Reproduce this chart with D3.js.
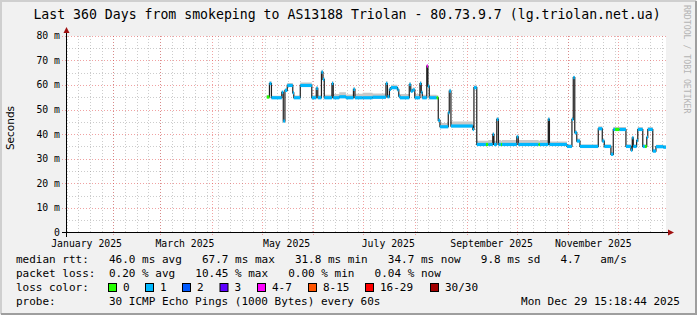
<!doctype html>
<html>
<head>
<meta charset="utf-8">
<script src="https://cdn.jsdelivr.net/npm/d3@7/dist/d3.min.js"></script>
<style>
  body { margin: 0; background: #f1f1f1; }
  svg { display: block; }
  text { font-family: "DejaVu Sans Mono", monospace; fill: #000; }
</style>
</head>
<body>
<svg id="chart" width="697" height="315"></svg>
<script>
// median rtt: day offset from 1 Jan 2025, ms, smoke above median (ms), loss class
var medDay = [123.1, 124.7, 125.9, 132.1, 133.0, 134.0, 135.4, 138.7, 139.3, 143.2,
              150.1, 152.8, 153.7, 155.9, 156.8, 157.6, 162.2, 163.0, 166.6, 170.6,
              175.1, 176.0, 180.6, 186.6, 194.6, 195.5, 196.7, 197.6, 201.5, 202.3,
              203.0, 208.6, 209.5, 210.7, 211.9, 215.0, 215.8, 216.4, 219.1, 219.8,
              220.6, 225.0, 226.0, 227.0, 232.0, 232.6, 233.6, 246.7, 247.4, 249.1,
              254.6, 256.0, 258.7, 259.4, 261.1, 262.1, 263.6, 264.2, 273.1, 274.0,
              286.2, 287.0, 292.0, 292.7, 303.2, 306.2, 307.0, 307.9, 309.1, 311.0,
              322.0, 324.4, 325.6, 329.6, 331.0, 332.1, 334.8, 338.6, 341.6, 342.4,
              343.0, 345.0, 345.7, 348.7, 350.0, 351.1, 351.7, 354.7, 356.6, 361.0];
var medMs  = [55.1, 60.6, 54.8, 57.0, 45.3, 57.8, 59.8, 56.8, 54.8, 59.8,
              54.8, 58.6, 54.8, 65.2, 62.3, 54.8, 60.6, 54.8, 55.2, 54.8,
              58.2, 54.8, 54.8, 55.0, 60.6, 55.2, 58.2, 58.9, 58.0, 55.5,
              54.8, 60.2, 57.5, 58.0, 54.8, 60.6, 57.0, 54.8, 67.7, 59.5,
              54.8, 54.8, 45.6, 43.0, 48.7, 57.5, 43.3, 41.9, 58.9, 35.8,
              35.8, 35.8, 39.9, 35.8, 46.0, 35.8, 35.8, 35.8, 38.9, 35.8,
              35.8, 35.8, 46.0, 35.8, 35.0, 46.0, 63.0, 40.6, 37.2, 35.0,
              42.2, 37.2, 35.0, 31.8, 41.9, 41.9, 41.9, 35.0, 33.5, 38.5,
              35.0, 37.4, 41.9, 35.0, 35.0, 38.7, 41.9, 33.1, 34.9, 34.7];
var smokeUp = [0.8, 1.0, 0.8, 0.8, 0.8, 0.8, 1.0, 0.8, 0.9, 1.2,
               1.0, 1.0, 1.0, 1.0, 1.0, 1.2, 1.0, 1.5, 1.8, 1.3,
               1.0, 1.6, 2.0, 1.5, 1.0, 1.0, 1.0, 1.2, 1.0, 1.0,
               1.5, 1.0, 1.0, 1.0, 1.5, 1.0, 1.0, 1.2, 0.5, 1.0,
               1.2, 1.0, 1.0, 1.5, 1.0, 1.0, 1.8, 1.0, 1.0, 1.5,
               1.5, 1.8, 1.0, 1.5, 1.0, 1.8, 1.5, 1.8, 1.0, 1.8,
               1.5, 1.8, 1.0, 1.2, 0.8, 1.0, 0.8, 1.0, 1.0, 0.8,
               1.0, 1.0, 0.8, 0.8, 1.0, 1.0, 1.0, 0.8, 0.8, 0.8,
               0.8, 0.8, 1.0, 0.8, 0.8, 0.8, 1.0, 0.8, 0.8, 0.8];
var lossCls = [0, 1, 1, 1, 1, 1, 1, 1, 1, 1,
               1, 1, 1, 1, 1, 1, 1, 1, 1, 1,
               1, 1, 1, 1, 1, 1, 1, 1, 1, 1,
               1, 1, 1, 1, 1, 1, 1, 1, 4, 1,
               1, 0, 1, 1, 1, 1, 1, 1, 1, 1,
               0, 1, 1, 1, 1, 1, 0, 1, 1, 1,
               0, 1, 1, 1, 1, 1, 1, 1, 1, 1,
               1, 1, 1, 1, 1, 0, 1, 1, 1, 1,
               1, 1, 1, 1, 0, 1, 1, 1, 1, 1];

var lossColors = ["#26ff00", "#00b8ff", "#0059ff", "#5e00ff", "#ff00ff", "#ff5500", "#ff0000", "#a10000"];
var lossLabels = ["0", "1", "2", "3", "4-7", "8-15", "16-29", "30/30"];
var yTicks = [0, 10, 20, 30, 40, 50, 60, 70, 80];

var legendRtt  = ["median rtt:", "46.0 ms avg", "67.7 ms max", "31.8 ms min", "34.7 ms now", "9.8 ms sd", "4.7", "am/s"];
var legendLoss = ["packet loss:", "0.20 % avg", "10.45 % max", "0.00 % min", "0.04 % now"];

var title = "Last 360 Days from smokeping to AS13188 Triolan - 80.73.9.7 (lg.triolan.net.ua)";
var probe = "30 ICMP Echo Pings (1000 Bytes) every 60s";
var stamp = "Mon Dec 29 15:18:44 2025";

var end = new Date(2025, 11, 29, 15, 18, 44);
var start = new Date(+end - 360 * 864e5);
var jan1 = new Date(2025, 0, 1);
var dayToDate = function(d) { return new Date(+jan1 + d * 864e5); };

var svg = d3.select("#chart");
var W = 697, H = 315;

// frame
svg.append("rect").attr("width", W).attr("height", H).attr("fill", "#f1f1f1");
svg.append("path").attr("d", "M1,314V1H696").attr("fill", "none").attr("stroke", "#cfcfcf").attr("stroke-width", 2);
svg.append("path").attr("d", "M1,314H696V1").attr("fill", "none").attr("stroke", "#9e9e9e").attr("stroke-width", 2);

var x = d3.scaleTime().domain([start, end]).range([66, 666]);
var y = d3.scaleLinear().domain([0, 80]).range([232.5, 35.8]);
var px = function(v) { return Math.round(v) + 0.5; };

svg.append("rect").attr("x", 66).attr("y", 36).attr("width", 600).attr("height", 197).attr("fill", "#fff");

// grid
var grid = svg.append("g").attr("stroke-dasharray", "1,2").attr("stroke-width", 1);
grid.selectAll(".hmin").data(d3.range(5, 80, 10)).enter().append("line")
  .attr("x1", 66).attr("x2", 666).attr("y1", function(d) { return px(y(d)); }).attr("y2", function(d) { return px(y(d)); })
  .attr("stroke", "rgba(128,128,128,0.4)");
grid.selectAll(".vmin").data(d3.timeSaturday.range(start, end)).enter().append("line")
  .attr("x1", function(d) { return px(x(d)); }).attr("x2", function(d) { return px(x(d)); })
  .attr("y1", 36).attr("y2", 233).attr("stroke", "rgba(128,128,128,0.4)");
grid.selectAll(".hmaj").data(yTicks.slice(1)).enter().append("line")
  .attr("x1", 62).attr("x2", 666).attr("y1", function(d) { return px(y(d)); }).attr("y2", function(d) { return px(y(d)); })
  .attr("stroke", "rgba(225,70,70,0.5)");
grid.selectAll(".vmaj").data(d3.timeMonth.range(start, end)).enter().append("line")
  .attr("x1", function(d) { return px(x(d)); }).attr("x2", function(d) { return px(x(d)); })
  .attr("y1", 36).attr("y2", 237).attr("stroke", "rgba(225,70,70,0.5)");

// smoke
var pts = medDay.map(function(d, i) {
  return { t: dayToDate(d), v: medMs[i], up: smokeUp[i], loss: lossCls[i] };
});
pts.push({ t: end, v: medMs[medMs.length - 1], up: smokeUp[smokeUp.length - 1], loss: 1 });

svg.append("path").datum(pts)
  .attr("fill", "#c8c8c8")
  .attr("d", d3.area().curve(d3.curveStepAfter)
    .x(function(d) { return x(d.t); })
    .y0(function(d) { return y(d.v - 0.5); })
    .y1(function(d) { return y(d.v + d.up); }));

// median line
svg.append("path").datum(pts)
  .attr("fill", "none").attr("stroke", "#202020").attr("stroke-width", 1.2)
  .attr("d", d3.line().curve(d3.curveStepAfter)
    .x(function(d) { return x(d.t); })
    .y(function(d) { return y(d.v); }));

// loss coloured median band
svg.selectAll(".med").data(pts.slice(0, -1)).enter().append("rect")
  .attr("x", function(d) { return x(d.t); })
  .attr("width", function(d, i) { return Math.max(1.2, x(pts[i + 1].t) - x(d.t)); })
  .attr("y", function(d) { return y(d.v) - 1.6; })
  .attr("height", 3.2)
  .attr("fill", function(d) { return lossColors[d.loss]; });

// axes
svg.append("line").attr("x1", 62).attr("x2", 670).attr("y1", 232.5).attr("y2", 232.5).attr("stroke", "#000");
svg.append("line").attr("x1", 66.5).attr("x2", 66.5).attr("y1", 237).attr("y2", 31).attr("stroke", "#000");
svg.append("path").attr("d", "M668,229.5L674,232.5L668,235.5Z").attr("fill", "#a01010");
svg.append("path").attr("d", "M63.5,33L66.5,27L69.5,33Z").attr("fill", "#a01010");

// y labels
svg.selectAll(".yl").data(yTicks).enter().append("text")
  .attr("x", 60).attr("y", function(d) { return y(d) + 3.5; })
  .attr("text-anchor", "end").style("font-size", "9.8px")
  .text(function(d) { return d === 0 ? "0" : d + " m"; });

// x labels: centred half a month after each second month start
svg.selectAll(".xl").data(d3.timeMonth.every(2).range(jan1, end)).enter().append("text")
  .attr("x", function(d) { return x(d3.timeDay.offset(d, 15)); }).attr("y", 246.5)
  .attr("text-anchor", "middle").style("font-size", "9.8px")
  .text(d3.timeFormat("%B %Y"));

svg.append("text").attr("transform", "translate(14,128) rotate(-90)")
  .attr("text-anchor", "middle").style("font-family", "'DejaVu Sans', sans-serif")
  .style("font-size", "10.5px").text("Seconds");

svg.append("text").attr("x", 347).attr("y", 18.5).attr("text-anchor", "middle")
  .style("font-size", "13.2px").text(title);

svg.append("text").attr("transform", "translate(684,5) rotate(90)")
  .style("font-size", "8.2px").style("fill", "#b4b4b4").text("RRDTOOL / TOBI OETIKER");

// legend
var cw = 6.64, lx = 16;
var col = function(c) { return lx + c * cw; };
var rttCols = [0, 14, 28, 42, 56, 70, 82, 88];
var lossCols = [0, 14, 27, 41, 54];
var fs = "11px";

svg.selectAll(".l1").data(legendRtt).enter().append("text")
  .attr("x", function(d, i) { return col(rttCols[i]); }).attr("y", 262.5)
  .style("font-size", fs).text(function(d) { return d; });
svg.selectAll(".l2").data(legendLoss).enter().append("text")
  .attr("x", function(d, i) { return col(lossCols[i]); }).attr("y", 276.5)
  .style("font-size", fs).text(function(d) { return d; });

svg.append("text").attr("x", lx).attr("y", 290.5).style("font-size", fs).text("loss color:");
var boxX = [108, 145, 182, 219.5, 257, 308, 365, 430];
var lg = svg.selectAll(".lc").data(lossLabels).enter().append("g")
  .attr("transform", function(d, i) { return "translate(" + boxX[i] + ",0)"; });
lg.append("rect").attr("x", 0.5).attr("y", 283.5).attr("width", 8).attr("height", 8)
  .attr("fill", function(d, i) { return lossColors[i]; }).attr("stroke", "#000");
lg.append("text").attr("x", 15).attr("y", 290.5).style("font-size", fs).text(function(d) { return d; });

svg.append("text").attr("x", lx).attr("y", 304.5).style("font-size", fs).text("probe:");
svg.append("text").attr("x", col(14)).attr("y", 304.5).style("font-size", fs).text(probe);
svg.append("text").attr("x", 680).attr("y", 304.5).attr("text-anchor", "end").style("font-size", fs).text(stamp);
</script>
</body>
</html>
